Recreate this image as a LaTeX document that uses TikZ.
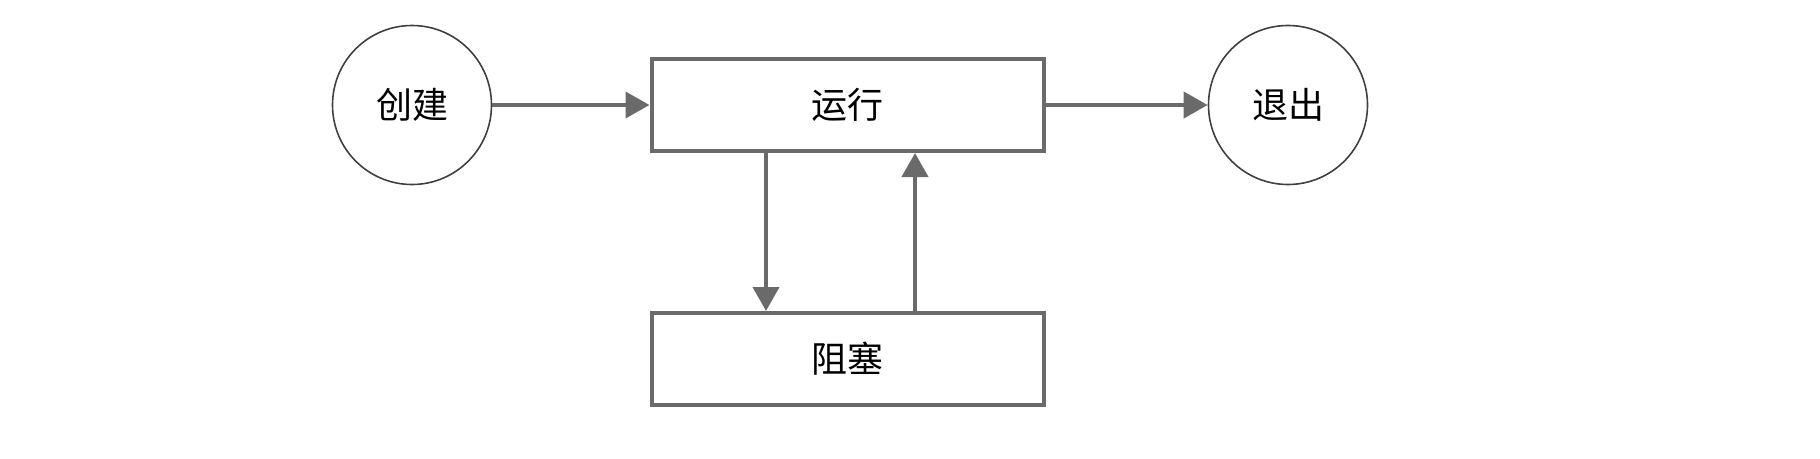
\documentclass[tikz,border=0pt]{standalone}
\usepackage{fontspec}
\newfontfamily\cjk{Noto Sans CJK SC}
\usetikzlibrary{arrows.meta}
\definecolor{lg}{HTML}{6A6A6A}
\begin{document}
\begin{tikzpicture}[x=1pt,y=-1pt,
  state/.style={circle,draw=black!75,line width=1.6pt,minimum size=159pt,inner sep=0pt,font=\cjk\fontsize{36}{40}\selectfont},
  box/.style={rectangle,draw=lg,line width=4pt,minimum width=392pt,minimum height=92pt,inner sep=0pt,font=\cjk\fontsize{36}{40}\selectfont},
  conn/.style={draw=lg,line width=4pt,-{Triangle[length=24pt,width=26pt]}}]
\useasboundingbox (0,0) rectangle (1820,458);
\node[state] (create) at (412,105) {创建};
\node[box] (run) at (847.5,105) {运行};
\node[state] (exit) at (1288,105) {退出};
\node[box] (block) at (847.5,359) {阻塞};
\draw[conn] (create) -- (run);
\draw[conn] (run) -- (exit);
\draw[conn] (run.south -| 766,0) -- (block.north -| 766,0);
\draw[conn] (block.north -| 915,0) -- (run.south -| 915,0);
\end{tikzpicture}
\end{document}
